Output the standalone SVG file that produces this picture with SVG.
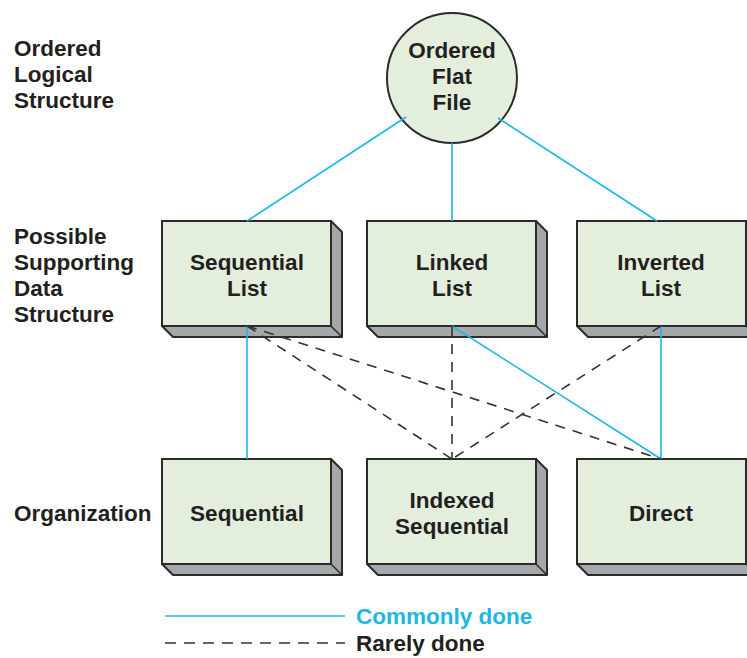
<svg xmlns="http://www.w3.org/2000/svg" width="747" height="658" viewBox="0 0 747 658">
<style>
text{font-family:"Liberation Sans",Arial,sans-serif;font-size:22.5px;font-weight:bold;fill:#231f20}
.c{text-anchor:middle}
.face{fill:#e3eedd;stroke:#2b2b2b;stroke-width:2}
.depth{fill:#a6a7aa;stroke:#2b2b2b;stroke-width:2;stroke-linejoin:round}
.edge{stroke:#2b2b2b;stroke-width:1.5;fill:none}
.solid{stroke:#1eb6e4;stroke-width:1.6;fill:none}
.dash{stroke:#333;stroke-width:1.6;fill:none;stroke-dasharray:10 8}
</style>
<defs>
<g id="box">
<polygon class="depth" points="169,0 180,11 180,116 11,116 0,105"/>
<line class="edge" x1="169" y1="105" x2="180" y2="116"/>
<rect class="face" x="0" y="0" width="169" height="105"/>
</g>
</defs>
<g id="labels">
<text x="14" y="56">Ordered</text>
<text x="14" y="82">Logical</text>
<text x="14" y="108">Structure</text>
<text x="14" y="244">Possible</text>
<text x="14" y="270">Supporting</text>
<text x="14" y="296">Data</text>
<text x="14" y="322">Structure</text>
<text x="14" y="521">Organization</text>
</g>
<g id="node-flatfile">
<circle cx="452" cy="78" r="65" fill="#e3eedd" stroke="#2b2b2b" stroke-width="2"/>
<text class="c" x="452" y="58">Ordered</text>
<text class="c" x="452" y="84">Flat</text>
<text class="c" x="452" y="110">File</text>
</g>
<g id="node-seqlist">
<use href="#box" x="162" y="221"/>
<text class="c" x="247" y="270">Sequential</text>
<text class="c" x="247" y="296">List</text>
</g>
<g id="node-linkedlist">
<use href="#box" x="367" y="221"/>
<text class="c" x="452" y="270">Linked</text>
<text class="c" x="452" y="296">List</text>
</g>
<g id="node-invlist">
<use href="#box" x="577" y="221"/>
<text class="c" x="661" y="270">Inverted</text>
<text class="c" x="661" y="296">List</text>
</g>
<g id="node-sequential">
<use href="#box" x="162" y="459"/>
<text class="c" x="247" y="521">Sequential</text>
</g>
<g id="node-indexed">
<use href="#box" x="367" y="459"/>
<text class="c" x="452" y="508">Indexed</text>
<text class="c" x="452" y="534">Sequential</text>
</g>
<g id="node-direct">
<use href="#box" x="577" y="459"/>
<text class="c" x="661" y="521">Direct</text>
</g>
<g id="connectors">
<line class="solid" x1="247" y1="221" x2="406" y2="117"/>
<line class="solid" x1="452" y1="221" x2="452" y2="143"/>
<line class="solid" x1="657" y1="221" x2="498" y2="118"/>
<line class="solid" x1="247" y1="326" x2="247" y2="459"/>
<line class="solid" x1="452" y1="326" x2="661" y2="459"/>
<line class="solid" x1="661" y1="326" x2="661" y2="459"/>
<line class="dash" x1="247" y1="326" x2="452" y2="459"/>
<line class="dash" x1="247" y1="326" x2="661" y2="459"/>
<line class="dash" x1="452" y1="326" x2="452" y2="459"/>
<line class="dash" x1="661" y1="326" x2="452" y2="459"/>
</g>
<g id="legend">
<line class="solid" x1="165" y1="616" x2="345" y2="616"/>
<text x="356" y="624" style="fill:#1eb6e4">Commonly done</text>
<line class="dash" x1="165" y1="643" x2="345" y2="643" style="stroke-dasharray:11 8"/>
<text x="356" y="651">Rarely done</text>
</g>
</svg>
